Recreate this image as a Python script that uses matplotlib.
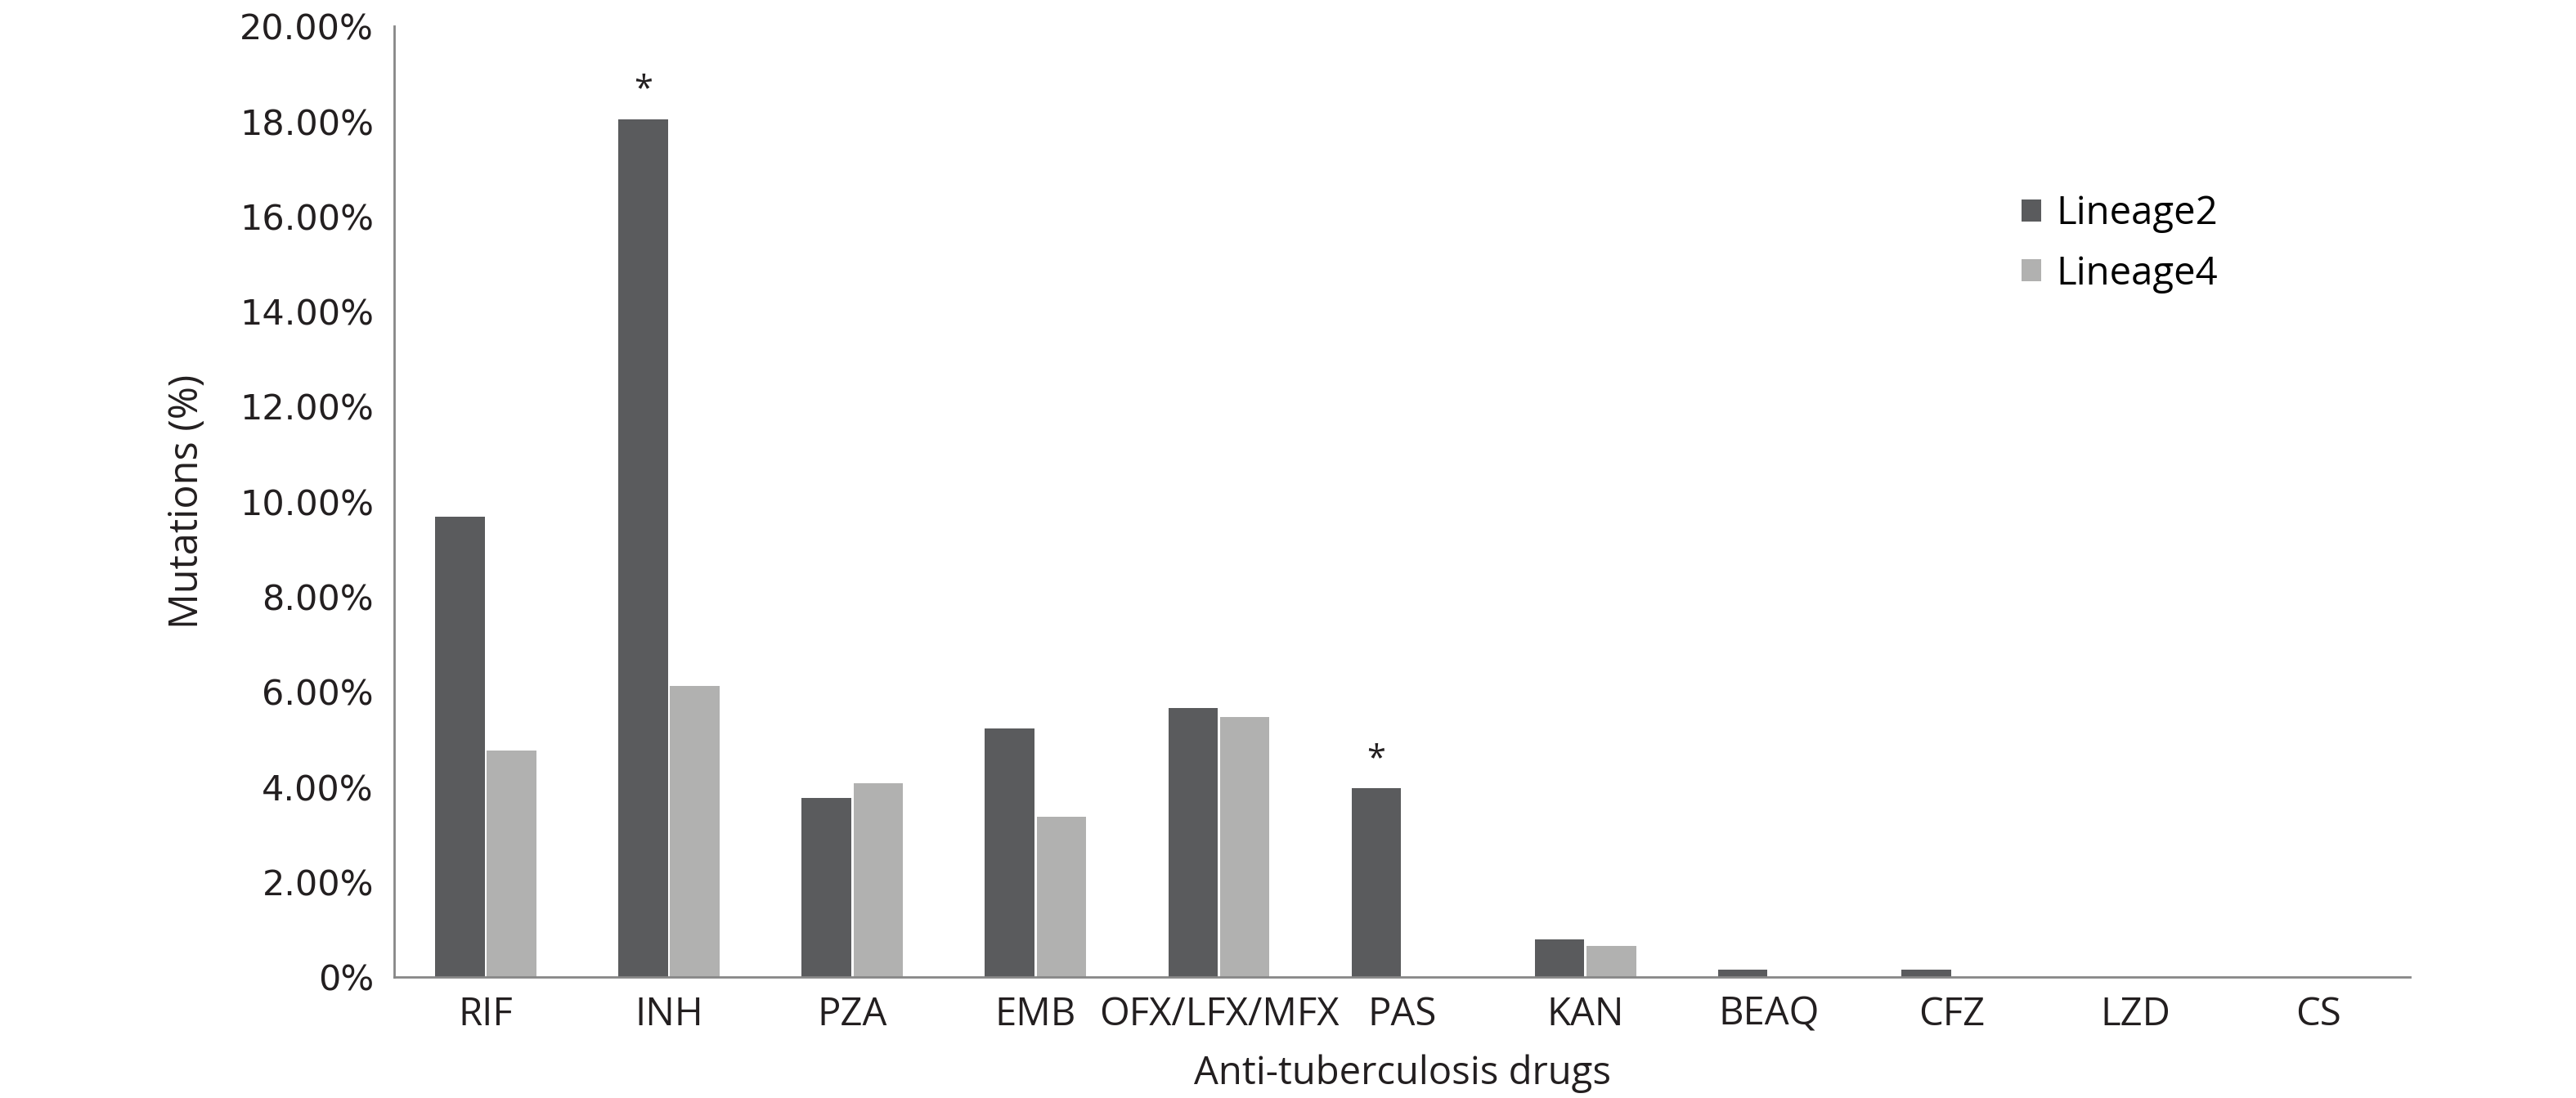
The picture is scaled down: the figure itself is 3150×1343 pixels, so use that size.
import matplotlib
matplotlib.use("Agg")
import matplotlib.pyplot as plt
import numpy as np
from matplotlib.ticker import FuncFormatter

categories = ["RIF", "INH", "PZA", "EMB", "OFX/LFX/MFX", "PAS", "KAN", "BEAQ", "CFZ", "LZD", "CS"]
lineage2 = [9.68, 18.05, 3.77, 5.23, 5.67, 3.97, 0.80, 0.16, 0.16, 0.0, 0.0]
lineage4 = [4.76, 6.13, 4.08, 3.37, 5.47, 0.0, 0.65, 0.0, 0.0, 0.0, 0.0]
significant = ["INH", "PAS"]
yticks = [0, 2, 4, 6, 8, 10, 12, 14, 16, 18, 20]

plt.rcParams['font.family'] = ['Open Sans', 'DejaVu Sans']

fig = plt.figure(figsize=(31.5, 13.43), dpi=100)
ax = fig.add_axes([0.153, 0.110, 0.7826, 0.866])

x = np.arange(len(categories))
w = 0.27
c2 = "#5a5b5d"
c4 = "#b1b1b0"
ax.bar(x - w / 2 - 0.006, lineage2, width=w, color=c2, label="Lineage2")
ax.bar(x + w / 2 + 0.006, lineage4, width=w, color=c4, label="Lineage4")

for i, cat in enumerate(categories):
    if cat in significant:
        ax.text(x[i] - w / 2 - 0.006, lineage2[i] + 0.25, "*", ha="center", va="bottom",
                fontsize=30, color="#231f20")

ax.set_xlim(-0.5, len(categories) - 0.5)
ax.set_ylim(0, 20)
ax.set_yticks(yticks)
ax.yaxis.set_major_formatter(FuncFormatter(lambda v, p: "0%" if v == 0 else f"{v:.2f}%"))
ax.set_xticks(x)
ax.set_xticklabels(categories)
ax.tick_params(axis="both", length=0, colors="#231f20")
ax.tick_params(axis="x", pad=16, labelsize=34)
ax.tick_params(axis="y", pad=18, labelsize=31)
for lab in ax.get_yticklabels():
    lab.set_fontfamily("DejaVu Sans")

for s in ["top", "right"]:
    ax.spines[s].set_visible(False)
for s in ["left", "bottom"]:
    ax.spines[s].set_color("#878787")
    ax.spines[s].set_linewidth(2.0)

ax.set_ylabel("Mutations (%)", fontsize=35, color="#231f20", labelpad=28)
ax.set_xlabel("Anti-tuberculosis drugs", fontsize=34, color="#231f20", labelpad=18)

ax.legend(loc="upper left", bbox_to_anchor=(0.79, 0.86), frameon=False, fontsize=34,
          handlelength=0.5, handleheight=0.5, handletextpad=0.4, labelspacing=0.55)

fig.savefig("out.png", dpi=100, facecolor="white")
